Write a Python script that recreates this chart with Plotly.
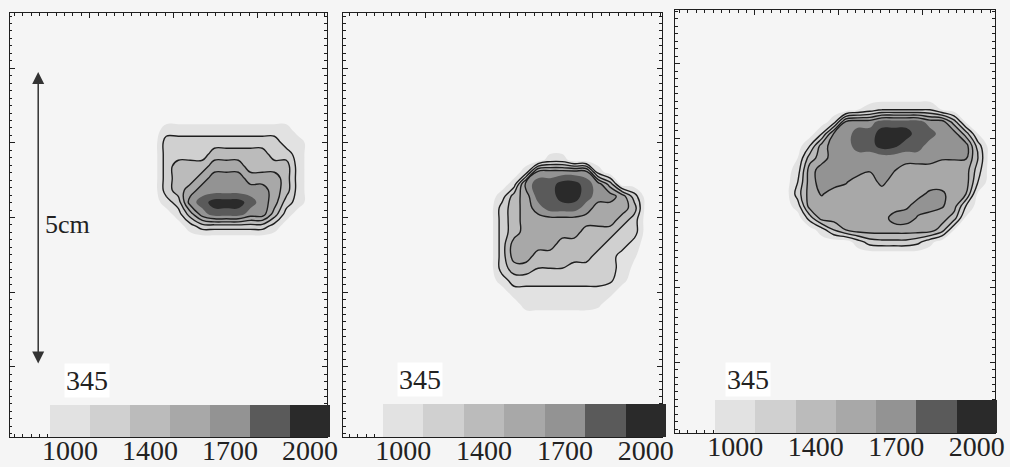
import numpy as np
import plotly.graph_objects as go

# ---------------- data ----------------
# grey band colours, band 0 = background (below the first level)
BAND_COLORS = ["#f5f5f5", "#e2e2e2", "#d0d0d0", "#bbbbbb", "#a8a8a8",
               "#939393", "#5a5a5a", "#2a2a2a"]
BAR_BANDS = [1, 2, 3, 4, 5, 6, 7]
BAR_TICK_BANDS = [1, 3, 5, 7]
BAR_TICK_LABELS = ["1000", "1400", "1700", "2000"]
PANEL_TAGS = ["345", "345", "345"]
SCALE_LABEL = "5cm"
SCALE_ARROW_X_CM = 0.49
SCALE_ARROW_Y_CM = [1.23, 6.23]

GRID_STEP_CM = 0.205

# band level read at each grid node (rows from top to bottom)
P1_GRID_ORIGIN_CM = (2.47, 5.44)
P1_LEVELS = [
    [0, 0, 0, 0, 0, 0, 0, 0, 0, 0, 0, 0, 0, 0],
    [0, 1, 1, 1, 1, 1, 1, 1, 1, 1, 1, 1, 0, 0],
    [0, 2, 2, 2, 2, 2, 2, 2, 2, 2, 2, 1, 1, 0],
    [0, 2, 2, 2, 2, 3, 3, 3, 3, 3, 2, 2, 1, 0],
    [0, 2, 3, 3, 3, 4, 4, 4, 3, 3, 3, 3, 1, 0],
    [0, 2, 3, 3, 4, 5, 5, 5, 4, 4, 4, 3, 1, 0],
    [0, 2, 3, 4, 5, 5, 5, 5, 5, 5, 4, 3, 1, 0],
    [0, 1, 2, 5, 6, 7, 7, 7, 6, 5, 4, 2, 1, 0],
    [0, 0, 1, 3, 5, 6, 6, 6, 5, 5, 3, 1, 0, 0],
    [0, 0, 0, 1, 2, 2, 2, 2, 2, 2, 1, 0, 0, 0],
    [0, 0, 0, 0, 0, 0, 0, 0, 0, 0, 0, 0, 0, 0],
]

P2_GRID_ORIGIN_CM = (2.51, 4.93)
P2_LEVELS = [
    [0, 0, 0, 0, 0, 0, 0, 0, 0, 0, 0, 0, 0, 0, 0],
    [0, 0, 0, 0, 0, 1, 1, 0, 0, 0, 0, 0, 0, 0, 0],
    [0, 0, 0, 1, 5, 5, 5, 5, 5, 1, 0, 0, 0, 0, 0],
    [0, 0, 1, 5, 6, 6, 7, 7, 6, 5, 3, 0, 0, 0, 0],
    [0, 1, 3, 4, 6, 6, 7, 7, 6, 5, 5, 4, 2, 0, 0],
    [0, 2, 3, 4, 5, 6, 6, 6, 5, 4, 4, 4, 3, 0, 0],
    [0, 2, 3, 4, 4, 4, 4, 4, 4, 4, 4, 3, 2, 0, 0],
    [0, 2, 3, 4, 4, 4, 4, 4, 3, 3, 3, 2, 2, 0, 0],
    [0, 2, 4, 4, 4, 4, 3, 3, 3, 3, 2, 2, 1, 0, 0],
    [0, 2, 4, 4, 3, 3, 3, 3, 3, 2, 2, 1, 0.6, 0, 0],
    [0, 2, 3, 3, 2.5, 2.5, 2.5, 2, 2, 2, 2, 1, 0.3, 0, 0],
    [0, 1, 2, 2, 2, 2, 2, 2, 2, 2, 1.7, 0.8, 0, 0, 0],
    [0, 0, 1, 1, 1, 1, 1, 1, 1, 1, 0.8, 0, 0, 0, 0],
    [0, 0, 0, 1, 1, 1, 1, 1, 1, 0.7, 0, 0, 0, 0, 0],
    [0, 0, 0, 0, 0, 0, 0, 0, 0, 0, 0, 0, 0, 0, 0],
]

P3_GRID_ORIGIN_CM = (1.89, 5.72)
P3_LEVELS = [
    [0, 0, 0, 0, 0, 0, 0, 0, 0, 0, 0, 0, 0, 0, 0, 0, 0, 0],
    [0, 0, 0, 0, 0, 0, 0.5, 1, 1.5, 1.5, 1.5, 1.5, 1.5, 0.5, 0, 0, 0, 0],
    [0, 0, 0, 0, 1, 4.6, 5, 5, 6, 6, 6, 6, 5, 5, 3, 0.3, 0, 0],
    [0, 0, 0, 1.5, 4.6, 5, 6, 6, 7, 7, 7, 6, 6, 5, 5, 3, 0.5, 0],
    [0, 0, 1.5, 4, 5, 5, 6, 6, 7, 6.8, 6, 6, 5, 5, 5, 5, 2, 0],
    [0, 0.5, 3, 4, 5, 5, 5, 5, 5, 5, 5, 5, 5, 4.6, 4.6, 4.6, 2.5, 0],
    [0, 1, 4, 5, 5, 5, 5, 4.6, 4.6, 4.6, 4, 4, 4, 4, 4, 4, 2, 0],
    [0, 1.5, 4, 5, 5, 4.6, 4, 4, 4.8, 4, 4, 4, 4, 4, 4, 4, 1.5, 0],
    [0, 2, 4, 4.6, 4, 4, 4, 4, 4, 4, 4, 4.2, 4.7, 4.7, 4, 3.5, 0.3, 0],
    [0, 1, 4, 4, 4, 4, 4, 4, 4, 4, 4.3, 4.9, 5, 4.6, 4, 1.5, 0, 0],
    [0, 0, 2, 4, 4, 4, 4, 4, 4, 4.9, 5, 4.4, 4, 4, 3, 0.3, 0, 0],
    [0, 0, 0, 1, 2.5, 3.5, 4, 4, 4, 4, 4, 4, 4, 3, 0.5, 0, 0, 0],
    [0, 0, 0, 0, 0, 0, 1, 2, 2.2, 2.2, 2.2, 1.8, 0.8, 0, 0, 0, 0, 0],
    [0, 0, 0, 0, 0, 0, 0, 0, 0, 0, 0, 0, 0, 0, 0, 0, 0, 0],
]

PANELS = [
    (P1_LEVELS, P1_GRID_ORIGIN_CM),
    (P2_LEVELS, P2_GRID_ORIGIN_CM),
    (P3_LEVELS, P3_GRID_ORIGIN_CM),
]

# ---------------- layout geometry (pixels of the 1010x467 page) ----------------
W, H = 1010, 467
PX_PER_CM = 58.6
# main frame boxes: left, right, top, bottom
FRAMES = [(9.5, 327, 13, 437), (343, 662, 13, 437), (675, 995, 10, 433)]
# scale bars: left, right, top, bottom
BARS = [(50, 330, 405, 437), (383, 666, 404, 437), (715, 997, 400, 433)]
BAR_LABEL_LIFT_PX = 6
XTICK0 = [1.37, 1.40, 1.365]
YTICK0 = [1.20, 1.20, 1.21]
XDTICK = 1.433
YDTICK = 1.273
TAG_POS = [(1.314, 0.956), (1.314, 0.973), (1.246, 0.92)]

FONT = "Liberation Serif"
INK = "#1e1e1e"

colorscale = [[k / 7.0, c] for k, c in enumerate(BAND_COLORS)]

fig = go.Figure()
layout = dict(
    width=W, height=H, margin=dict(l=0, r=0, t=0, b=0, pad=0, autoexpand=False),
    paper_bgcolor=BAND_COLORS[0], plot_bgcolor=BAND_COLORS[0],
    showlegend=False, annotations=[],
)

for i, (levels, origin) in enumerate(PANELS):
    z = np.array(levels, dtype=float)
    nrows, ncols = z.shape
    xs = origin[0] + np.arange(ncols) * GRID_STEP_CM
    ys = origin[1] - np.arange(nrows) * GRID_STEP_CM
    xa = "x" if i == 0 else f"x{i + 1}"
    ya = "y" if i == 0 else f"y{i + 1}"
    fig.add_trace(go.Contour(
        z=z, x=xs, y=ys, xaxis=xa, yaxis=ya,
        colorscale=colorscale, showscale=False, hoverinfo="skip",
        contours=dict(start=0.5, end=6.5, size=1, coloring="fill", showlines=False),
        line=dict(width=0, smoothing=1.2),
    ))
    fig.add_trace(go.Contour(
        z=z, x=xs, y=ys, xaxis=xa, yaxis=ya,
        showscale=False, hoverinfo="skip",
        contours=dict(start=1.5, end=4.5, size=1, coloring="none"),
        line=dict(color=INK, width=1.4, smoothing=1.2),
    ))

    l, r, t, b = FRAMES[i]
    wcm = (r - l) / PX_PER_CM
    hcm = (b - t) / PX_PER_CM
    common = dict(showline=True, linecolor=INK, linewidth=1.2, mirror="ticks",
                  ticks="inside", ticklen=5, tickwidth=1, tickcolor=INK,
                  showticklabels=False, showgrid=False, zeroline=False,
                  automargin=False)
    layout["xaxis" if i == 0 else f"xaxis{i + 1}"] = dict(
        domain=[l / W, r / W], range=[0, wcm], anchor=ya,
        tick0=XTICK0[i], dtick=XDTICK,
        minor=dict(ticks="inside", ticklen=2.5, tick0=XTICK0[i], dtick=XDTICK / 10,
                   tickcolor=INK, tickwidth=1, showgrid=False),
        **common)
    layout["yaxis" if i == 0 else f"yaxis{i + 1}"] = dict(
        domain=[1 - b / H, 1 - t / H], range=[0, hcm], anchor=xa,
        tick0=YTICK0[i], dtick=YDTICK,
        minor=dict(ticks="inside", ticklen=2.5, tick0=YTICK0[i], dtick=YDTICK / 10,
                   tickcolor=INK, tickwidth=1, showgrid=False),
        **common)

    # panel tag
    layout["annotations"].append(dict(
        x=TAG_POS[i][0], y=TAG_POS[i][1], xref=xa, yref=ya, text=PANEL_TAGS[i],
        showarrow=False, bgcolor="white", borderpad=1,
        font=dict(family=FONT, size=28, color="#222")))

    # scale bar (legend of grey levels)
    bi = i + 4
    bl, br, bt, bb = BARS[i]
    fig.add_trace(go.Heatmap(
        z=[BAR_BANDS], x=[k - 1 for k in BAR_BANDS], y=[0],
        xaxis=f"x{bi}", yaxis=f"y{bi}", colorscale=colorscale,
        zmin=0, zmax=7, showscale=False, hoverinfo="skip"))
    layout[f"xaxis{bi}"] = dict(
        domain=[bl / W, br / W], range=[-0.5, len(BAR_BANDS) - 0.5],
        anchor="free", position=1 - (bb - BAR_LABEL_LIFT_PX) / H,
        tickmode="array", tickvals=[k - 1 for k in BAR_TICK_BANDS], ticktext=BAR_TICK_LABELS,
        ticks="", showline=False, showgrid=False, zeroline=False, automargin=False,
        tickfont=dict(family=FONT, size=28, color="#222"))
    layout[f"yaxis{bi}"] = dict(
        domain=[1 - bb / H, 1 - bt / H], range=[-0.5, 0.5], anchor=f"x{bi}",
        visible=False, automargin=False)

# 5 cm scale arrow and its label on the first panel
layout["annotations"].append(dict(
    x=SCALE_ARROW_X_CM, y=SCALE_ARROW_Y_CM[1], ax=SCALE_ARROW_X_CM, ay=SCALE_ARROW_Y_CM[0],
    xref="x", yref="y", axref="x", ayref="y", text="", showarrow=True,
    arrowhead=2, arrowside="end+start", arrowsize=1.6, arrowwidth=1.5,
    arrowcolor="#333", standoff=0, startstandoff=0))
layout["annotations"].append(dict(
    x=0.57, y=3.62, xref="x", yref="y", text=SCALE_LABEL, showarrow=False,
    xanchor="left", font=dict(family=FONT, size=26, color="#222")))

fig.update_layout(**layout)
fig.write_html("out.html", config={"displayModeBar": False},
               post_script="document.body.style.margin='0';document.body.style.overflow='hidden';")
